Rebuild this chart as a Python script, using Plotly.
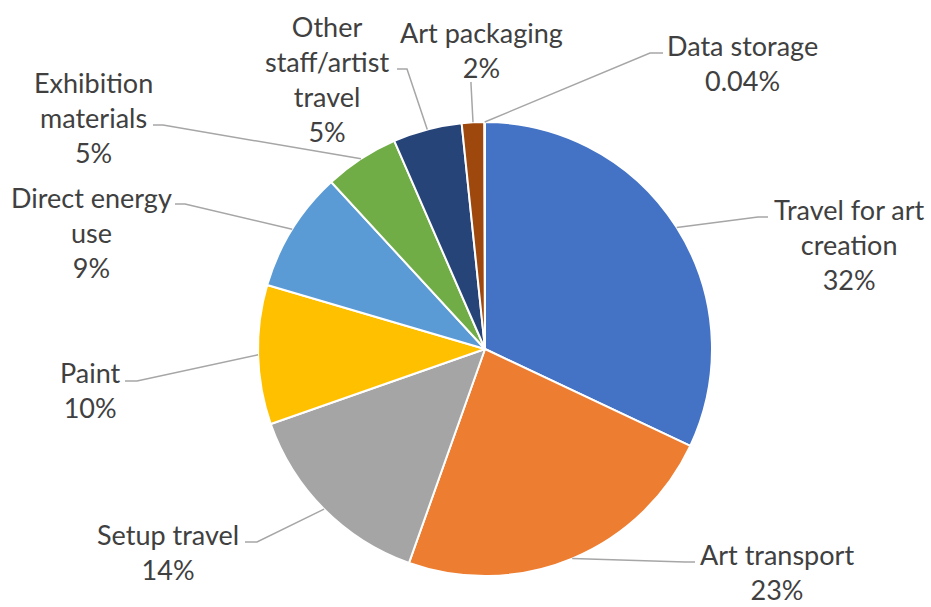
import math
import plotly.graph_objects as go

# ---- data ----
categories = ["Travel for art creation", "Art transport", "Setup travel", "Paint",
              "Direct energy use", "Exhibition materials", "Other staff/artist travel",
              "Art packaging", "Data storage"]
values = [32.0, 23.4, 14.2, 9.9, 8.6, 5.3, 4.9, 1.6, 0.04]
pct_labels = ["32%", "23%", "14%", "10%", "9%", "5%", "5%", "2%", "0.04%"]
label_lines = [["Travel for art", "creation"], ["Art transport"], ["Setup travel"], ["Paint"],
               ["Direct energy", "use"], ["Exhibition", "materials"],
               ["Other", "staff/artist", "travel"], ["Art packaging"], ["Data storage"]]
colors = ["#4472C4", "#ED7D31", "#A5A5A5", "#FFC000", "#5B9BD5",
          "#70AD47", "#264478", "#9E480E", "#636363"]

# ---- layout geometry (pixels) ----
W, H = 931, 607
CX, CY, R = 485, 349, 227

# label block centres and leader line elbow/end points (pixels)
label_pos = [(849, 244), (777, 572), (168, 552), (90, 390), (91, 232),
             (93, 117), (327, 79), (481, 50), (742, 63)]
leader_pts = [[(758, 217), (768, 217)], [(685, 562), (695, 562)],
              [(257, 542), (245, 542)], [(137, 381), (125, 381)],
              [(185, 204), (175, 204)], [(163, 125), (153, 125)],
              [(407, 69), (397, 69)], [(471, 84), (471, 82)],
              [(650, 53), (663, 53)]]


def px(x):
    return x / W


def py(y):
    return 1 - y / H


fig = go.Figure(go.Pie(
    labels=categories, values=values, sort=False, direction="clockwise",
    rotation=0, textinfo="none", hoverinfo="label+percent",
    marker=dict(colors=colors, line=dict(color="white", width=2)),
    domain=dict(x=[px(CX - R), px(CX + R)], y=[py(CY + R), py(CY - R)]),
    showlegend=False,
))

total = sum(values)
cum = 0.0
shapes = []
annotations = []
for i, v in enumerate(values):
    mid = (cum + v / 2) / total * 2 * math.pi
    cum += v
    sx = CX + R * math.sin(mid)
    sy = CY - R * math.cos(mid)
    pts = [(sx, sy)] + leader_pts[i]
    path = "M " + " L ".join(f"{px(x):.5f},{py(y):.5f}" for x, y in pts)
    shapes.append(dict(type="path", path=path, xref="paper", yref="paper",
                       line=dict(color="#A6A6A6", width=1.5)))
    lx, ly = label_pos[i]
    annotations.append(dict(
        x=px(lx), y=py(ly), xref="paper", yref="paper", showarrow=False,
        xanchor="center", yanchor="middle", align="center",
        text="<br>".join(label_lines[i] + [pct_labels[i]]),
        font=dict(family="Lato", size=27, color="#404040"),
    ))

fig.update_layout(
    width=W, height=H, margin=dict(l=0, r=0, t=0, b=0),
    paper_bgcolor="white", plot_bgcolor="white",
    shapes=shapes, annotations=annotations,
)

fig.write_html("out.html")
